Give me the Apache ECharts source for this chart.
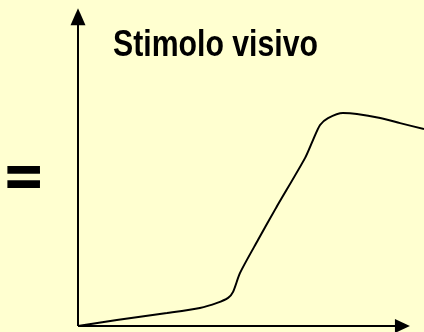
<!DOCTYPE html>
<html>
<head>
<meta charset="utf-8">
<script src="https://cdn.jsdelivr.net/npm/echarts@6/dist/echarts.min.js"></script>
<style>
  html, body { margin: 0; padding: 0; background: #FFFFD0; }
  #chart { width: 424px; height: 332px; }
</style>
</head>
<body>
<div id="chart"></div>
<script>
// Response curve to a visual stimulus (arbitrary units, time on x)
const curveX = [0, 11.7, 26.8, 36.7, 41.9, 45.2, 46.7, 48.8, 54.2, 59.6, 68.4, 70.8, 72.9, 75.3, 79.8, 84.0, 91.0, 97.0, 104.2];
const curveY = [0, 1.9, 4.1, 5.7, 7.3, 8.9, 10.8, 16.8, 27.2, 37.3, 53.2, 58.9, 63.6, 65.8, 67.4, 67.1, 65.8, 64.2, 62.3];
// Extent of the drawn axes (arrow centres), in data units
const axisEndX = 97.7;
const axisEndY = 97.9;
const titleText = 'Stimolo visivo';
const equalsText = '=';

const points = curveX.map((x, i) => [x, curveY[i]]);

const chart = echarts.init(document.getElementById('chart'), null, { renderer: 'canvas' });
chart.setOption({
  backgroundColor: '#FFFFD0',
  animation: false,
  graphic: [{
    type: 'text',
    x: 113,
    y: 28,
    scaleX: 0.84,
    style: {
      text: titleText,
      font: 'bold 36px "Liberation Sans", Arial, sans-serif',
      textAlign: 'left',
      textVerticalAlign: 'top',
      fill: '#000'
    }
  }, {
    type: 'text',
    x: 6,
    y: 153,
    scaleX: 1.12,
    style: {
      text: equalsText,
      font: 'bold 54px "Liberation Sans", Arial, sans-serif',
      textAlign: 'left',
      textVerticalAlign: 'top',
      fill: '#000',
      stroke: '#000',
      lineWidth: 2
    }
  }],
  grid: { left: 78, right: 0, top: 10, bottom: 6, containLabel: false },
  xAxis: {
    type: 'value', min: 0, max: 104.2,
    axisLine: { show: false }, axisTick: { show: false }, axisLabel: { show: false }, splitLine: { show: false }
  },
  yAxis: {
    type: 'value', min: 0, max: 100,
    axisLine: { show: false }, axisTick: { show: false }, axisLabel: { show: false }, splitLine: { show: false }
  },
  series: [{
    type: 'line',
    data: points,
    clip: false,
    smooth: 0.25,
    showSymbol: false,
    silent: true,
    lineStyle: { color: '#000', width: 2 },
    markLine: {
      silent: true,
      animation: false,
      label: { show: false },
      lineStyle: { color: '#000', width: 2, type: 'solid' },
      emphasis: { disabled: true },
      data: [
        [{ coord: [0, 0], symbol: 'none' }, { coord: [axisEndX, 0], symbol: 'triangle', symbolSize: [14, 15] }],
        [{ coord: [0, 0], symbol: 'none' }, { coord: [0, axisEndY], symbol: 'triangle', symbolSize: [15, 17] }]
      ]
    }
  }]
});
</script>
</body>
</html>
